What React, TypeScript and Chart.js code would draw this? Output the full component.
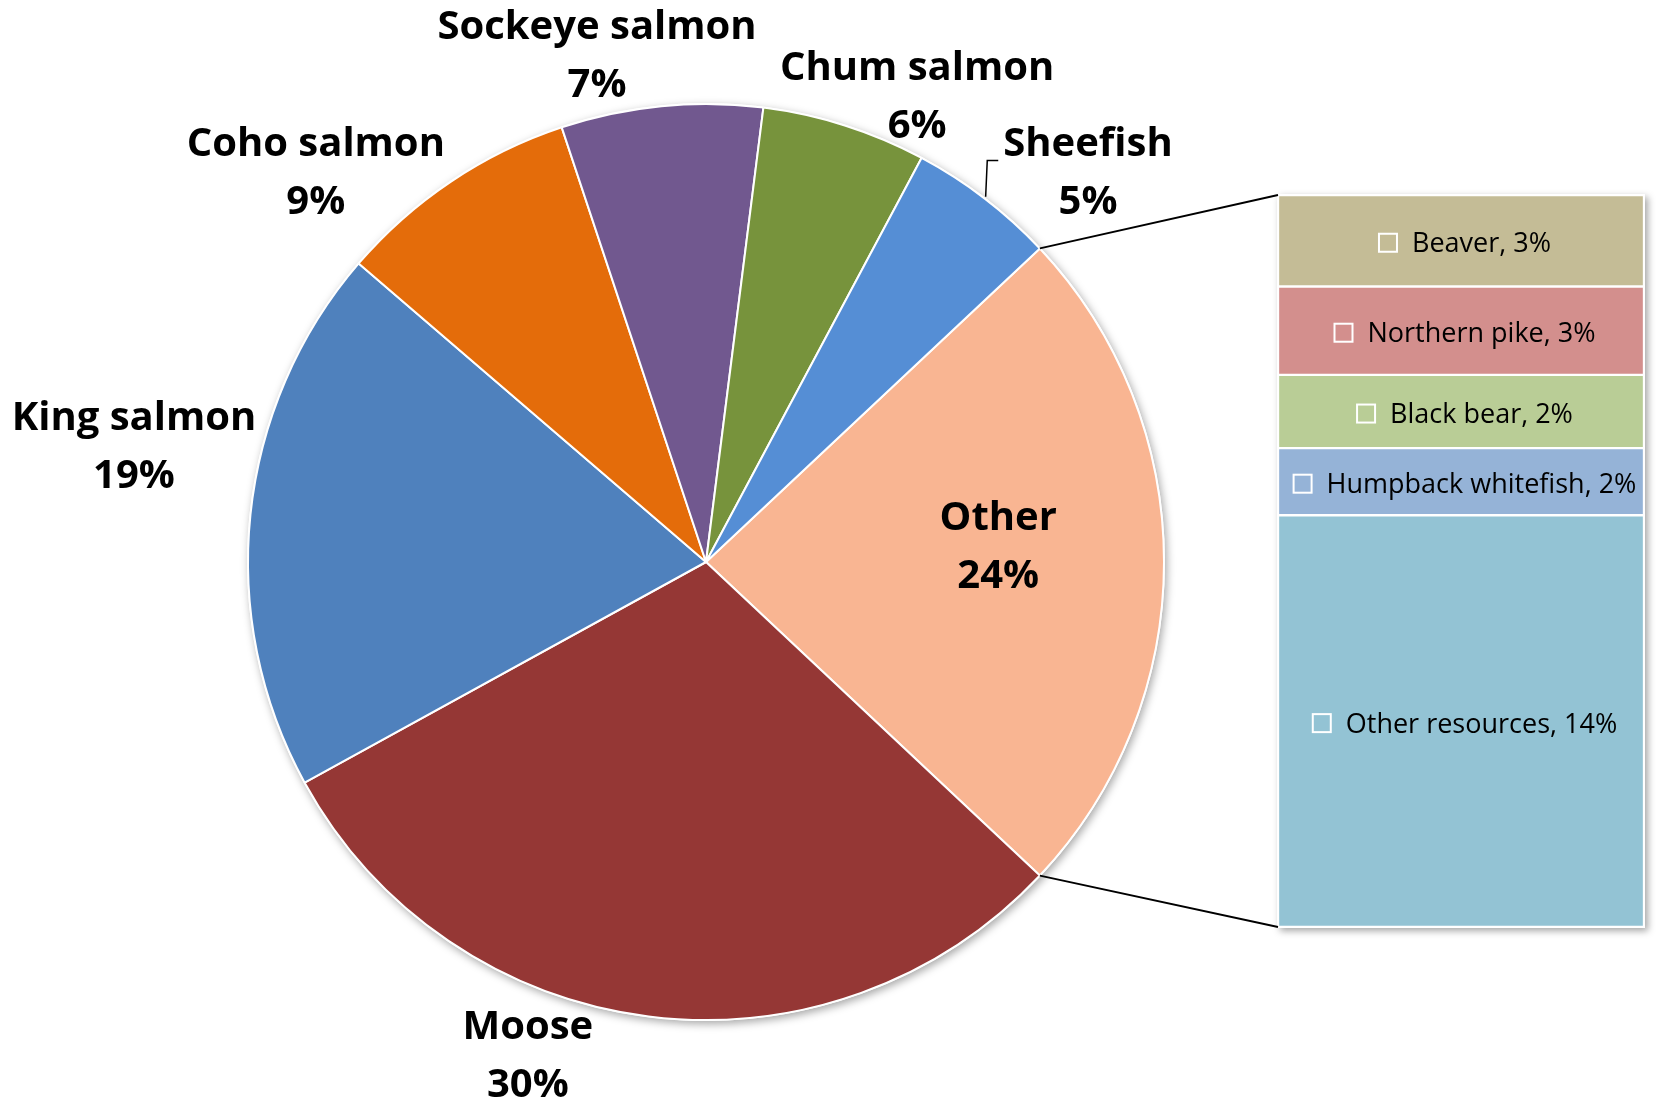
import React, { useEffect, useRef } from "react";
import { Chart, registerables } from "chart.js";

Chart.register(...registerables);

const W = 1662;
const H = 1103;

// ---- data ----
const pieLabels = ["Other", "Moose", "King salmon", "Coho salmon", "Sockeye salmon", "Chum salmon", "Sheefish"];
const pieValues = [24, 30, 19.3, 8.6, 7.1, 5.8, 5.2];
const pieColors = ["#F9B592", "#953735", "#4F81BD", "#E46C0A", "#71588F", "#77933C", "#558ED5"];

const subLabels = ["Beaver", "Northern pike", "Black bear", "Humpback whitefish", "Other resources"];
const subValues = [3.0, 2.9, 2.4, 2.2, 13.5];
const subColors = ["#C4BC96", "#D38F8D", "#B9CD96", "#95B3D7", "#93C3D4"];

// ---- layout (positions / styles) ----
const PIE_CX = 706;
const PIE_CY = 562;
const PIE_R = 459;
const BAR_BOX = { left: 1278, top: 195, right: 1644, bottom: 927 };
// label group centres, in units of the pie radius, relative to the pie centre
const pieLabelOffsets: [number, number][] = [
  [0.638, -0.032],
  [-0.389, 1.08],
  [-1.249, -0.25],
  [-0.852, -0.848],
  [-0.238, -1.103],
  [0.461, -1.015],
  [0.834, -0.848],
];
const LEADER_INDEX = 6;
const FONT = "'Open Sans', 'Noto Sans', sans-serif";
const PIE_FONT = `bold 40px ${FONT}`;
const PIE_LINE_GAP = 58;
const SUB_FONT = `27px ${FONT}`;
const SUB_TEXT_SHIFT = 4;

export default function App() {
  const pieRef = useRef<HTMLCanvasElement | null>(null);
  const barRef = useRef<HTMLCanvasElement | null>(null);

  useEffect(() => {
    if (!pieRef.current || !barRef.current) return;

    const pieDecor = {
      id: "pieDecor",
      beforeDatasetsDraw(chart: any) {
        const el = chart.getDatasetMeta(0).data[0];
        if (!el) return;
        const ctx = chart.ctx;
        ctx.save();
        ctx.shadowColor = "rgba(0,0,0,0.35)";
        ctx.shadowBlur = 8;
        ctx.shadowOffsetX = 2;
        ctx.shadowOffsetY = 3;
        ctx.fillStyle = "#ffffff";
        ctx.beginPath();
        ctx.arc(el.x, el.y, el.outerRadius + 1, 0, Math.PI * 2);
        ctx.fill();
        ctx.restore();
      },
      afterDatasetsDraw(chart: any) {
        const ctx = chart.ctx;
        const meta = chart.getDatasetMeta(0);
        ctx.save();
        ctx.font = PIE_FONT;
        ctx.fillStyle = "#000000";
        ctx.textAlign = "center";
        ctx.textBaseline = "middle";
        meta.data.forEach((el: any, i: number) => {
          const R = el.outerRadius;
          const [fx, fy] = pieLabelOffsets[i];
          const lx = el.x + R * fx;
          const ly = el.y + R * fy;
          const l1 = pieLabels[i];
          const l2 = `${Math.round(pieValues[i])}%`;
          ctx.fillText(l1, lx, ly - PIE_LINE_GAP / 2);
          ctx.fillText(l2, lx, ly + PIE_LINE_GAP / 2);
          if (i === LEADER_INDEX) {
            const w = ctx.measureText(l1).width;
            const textLeft = lx - w / 2;
            const a = (el.startAngle + el.endAngle) / 2;
            ctx.save();
            ctx.strokeStyle = "#000000";
            ctx.lineWidth = 1.5;
            ctx.beginPath();
            ctx.moveTo(el.x + (R + 2) * Math.cos(a), el.y + (R + 2) * Math.sin(a));
            ctx.lineTo(textLeft - 16, ly - 13);
            ctx.lineTo(textLeft - 5, ly - 13);
            ctx.stroke();
            ctx.restore();
          }
        });
        ctx.restore();
      },
    };

    const pieChart = new Chart(pieRef.current, {
      type: "pie",
      data: {
        labels: pieLabels,
        datasets: [
          {
            data: pieValues,
            backgroundColor: pieColors,
            borderColor: "#ffffff",
            borderWidth: 2,
          },
        ],
      },
      options: {
        responsive: false,
        animation: false,
        rotation: 90 - ((pieValues[0] / pieValues.reduce((a, b) => a + b, 0)) * 360) / 2,
        layout: {
          padding: {
            left: PIE_CX - PIE_R,
            top: PIE_CY - PIE_R,
            right: W - (PIE_CX + PIE_R),
            bottom: H - (PIE_CY + PIE_R),
          },
        },
        plugins: { legend: { display: false }, tooltip: { enabled: false } },
        events: [],
      } as any,
      plugins: [pieDecor],
    });

    const subTotal = subValues.reduce((a, b) => a + b, 0);

    const barDecor = {
      id: "barDecor",
      beforeDatasetsDraw(chart: any) {
        const { left, top, right, bottom } = chart.chartArea;
        const ctx = chart.ctx;
        ctx.save();
        ctx.shadowColor = "rgba(0,0,0,0.35)";
        ctx.shadowBlur = 7;
        ctx.shadowOffsetX = 3;
        ctx.shadowOffsetY = 3;
        ctx.fillStyle = "#ffffff";
        ctx.fillRect(left - 1, top - 1, right - left + 2, bottom - top + 2);
        ctx.restore();
      },
      afterDatasetsDraw(chart: any) {
        const ctx = chart.ctx;
        const area = chart.chartArea;
        ctx.save();
        ctx.font = SUB_FONT;
        ctx.textBaseline = "middle";
        ctx.textAlign = "left";
        chart.data.datasets.forEach((ds: any, i: number) => {
          const el = chart.getDatasetMeta(i).data[0];
          if (!el) return;
          const cy = (el.y + el.base) / 2 + SUB_TEXT_SHIFT;
          const text = `${subLabels[i]}, ${Math.round(subValues[i])}%`;
          const tw = ctx.measureText(text).width;
          const box = 18;
          const gap = 15;
          const gw = box + gap + tw;
          const x0 = el.x + 4 - gw / 2;
          ctx.strokeStyle = "#ffffff";
          ctx.lineWidth = 2;
          ctx.strokeRect(x0, cy - box / 2 - 2, box, box);
          ctx.fillStyle = "#000000";
          ctx.fillText(text, x0 + box + gap, cy);
        });
        // connector lines from the "Other" slice to the bar
        const arc: any = pieChart.getDatasetMeta(0).data[0];
        if (arc) {
          const R = arc.outerRadius;
          const p1 = [arc.x + R * Math.cos(arc.startAngle), arc.y + R * Math.sin(arc.startAngle)];
          const p2 = [arc.x + R * Math.cos(arc.endAngle), arc.y + R * Math.sin(arc.endAngle)];
          ctx.strokeStyle = "#000000";
          ctx.lineWidth = 1.8;
          ctx.beginPath();
          ctx.moveTo(p1[0], p1[1]);
          ctx.lineTo(area.left, area.top);
          ctx.moveTo(p2[0], p2[1]);
          ctx.lineTo(area.left, area.bottom);
          ctx.stroke();
        }
        ctx.restore();
      },
    };

    const barChart = new Chart(barRef.current, {
      type: "bar",
      data: {
        labels: ["Other"],
        datasets: subLabels.map((l, i) => ({
          label: l,
          data: [subValues[i]],
          backgroundColor: subColors[i],
          borderColor: "#ffffff",
          borderWidth: 1.5,
          borderSkipped: false,
          barPercentage: 1,
          categoryPercentage: 1,
        })),
      },
      options: {
        responsive: false,
        animation: false,
        layout: {
          padding: {
            left: BAR_BOX.left,
            top: BAR_BOX.top,
            right: W - BAR_BOX.right,
            bottom: H - BAR_BOX.bottom,
          },
        },
        scales: {
          x: { display: false, stacked: true },
          y: { display: false, stacked: true, reverse: true, min: 0, max: subTotal },
        },
        plugins: { legend: { display: false }, tooltip: { enabled: false } },
        events: [],
      } as any,
      plugins: [barDecor],
    });

    return () => {
      barChart.destroy();
      pieChart.destroy();
    };
  }, []);

  return (
    <div style={{ position: "fixed", left: 0, top: 0, width: W, height: H, background: "#ffffff" }}>
      <canvas ref={pieRef} width={W} height={H} style={{ position: "absolute", left: 0, top: 0, width: W, height: H }} />
      <canvas ref={barRef} width={W} height={H} style={{ position: "absolute", left: 0, top: 0, width: W, height: H }} />
    </div>
  );
}
